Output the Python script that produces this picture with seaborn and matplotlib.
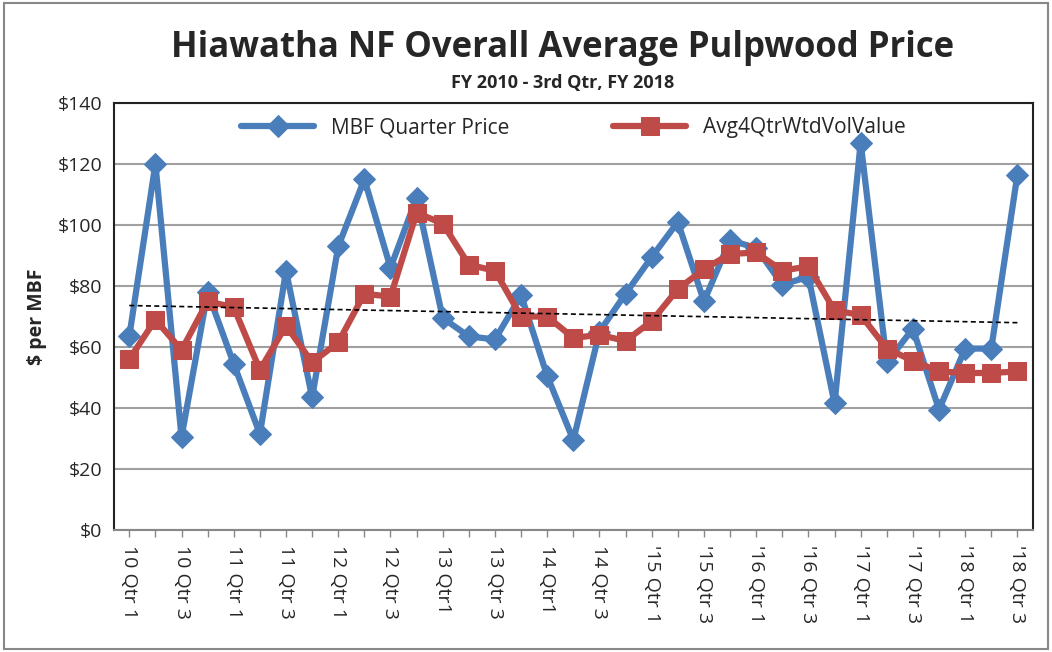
import numpy as np
import pandas as pd
import matplotlib
matplotlib.use("Agg")
import matplotlib.pyplot as plt
import seaborn as sns

# quarters FY2010 Q1 .. FY2018 Q3
quarters = [f"{y} Q{q}" for y in range(10, 19) for q in range(1, 5)][:35]

mbf_price = [63.5, 120, 30.5, 78, 54.5, 31.5, 85, 43.5, 93, 115, 86, 109,
             69.5, 63.5, 62.5, 77, 50.5, 29.5, 65, 77.5, 89.5, 101, 75, 95,
             92.5, 80.5, 83, 41.5, 127, 55, 66, 39.5, 59.5, 59.5, 116.5]

avg4qtr = [56, 69, 59, 75, 73, 52.5, 67, 55, 61.5, 77.5, 76.5, 104,
           100.5, 87, 85, 70, 70, 63, 64, 62, 68.5, 79, 85.5, 90.5,
           91, 85, 86.5, 72, 70.5, 59.5, 55.5, 52, 51.5, 51.5, 52]

tick_labels = ["10 Qtr 1", "10 Qtr 3", "11 Qtr 1", "11 Qtr 3", "12 Qtr 1",
               "12 Qtr 3", "13 Qtr1", "13 Qtr 3", "14 Qtr1", "14 Qtr 3",
               "'15 Qtr 1", "'15 Qtr 3", "'16 Qtr 1", "'16 Qtr 3",
               "'17 Qtr 1", "'17 Qtr 3", "'18 Qtr 1", "'18 Qtr 3"]

df = pd.DataFrame({"idx": np.arange(len(quarters)), "quarter": quarters,
                   "MBF Quarter Price": mbf_price,
                   "Avg4QtrWtdVolValue": avg4qtr})

sns.set_style("white")
plt.rcParams["font.family"] = ["Open Sans", "DejaVu Sans"]

fig = plt.figure(figsize=(10.52, 6.52), dpi=100)
ax = fig.add_axes([0.108, 0.187, 0.874, 0.655])

blue = "#4a7ebb"
red = "#be4b48"

sns.lineplot(data=df, x="idx", y="MBF Quarter Price", ax=ax, color=blue,
             linewidth=4.5, marker="D", markersize=11, markeredgecolor=blue,
             label="MBF Quarter Price")
sns.lineplot(data=df, x="idx", y="Avg4QtrWtdVolValue", ax=ax, color=red,
             linewidth=4.5, marker="s", markersize=13, markeredgecolor=red,
             label="Avg4QtrWtdVolValue")

# linear trend of the weighted 4-quarter average
coef = np.polyfit(df["idx"], df["Avg4QtrWtdVolValue"], 1)
ax.plot(df["idx"], np.polyval(coef, df["idx"]), color="black",
        linestyle=(0, (3, 2)), linewidth=1.2, zorder=5)

ax.set_ylim(0, 140)
ax.set_xlim(-0.6, len(quarters) - 0.4)
ax.set_yticks(range(0, 141, 20))
ax.set_yticklabels([f"${v}" for v in range(0, 141, 20)], fontsize=14)
ax.yaxis.grid(True, color="#a0a0a0", linewidth=1.5)
ax.set_axisbelow(True)

ax.set_xticks(df["idx"])
labels = []
for i in range(len(quarters)):
    labels.append(tick_labels[i // 2] if i % 2 == 0 else "")
ax.set_xticklabels(labels, rotation=270, fontsize=14)
ax.tick_params(axis="x", direction="out", length=5, width=1, color="#888888",
               bottom=True, pad=6)
ax.tick_params(axis="y", length=0, pad=8)

for s in ax.spines.values():
    s.set_color("#222222")
    s.set_linewidth(1.5)
ax.spines["bottom"].set_color("#888888")

ax.set_xlabel("")
ax.set_ylabel("$ per MBF", fontsize=14, fontweight="bold", labelpad=8)

ax.legend(loc="upper center", ncol=2, frameon=False, fontsize=15,
          handlelength=3.5, columnspacing=5, bbox_to_anchor=(0.5, 1.01))

fig.text(0.535, 0.927, "Hiawatha NF Overall Average Pulpwood Price",
         ha="center", va="center", fontsize=25, fontweight="bold")
fig.text(0.535, 0.872, "FY 2010 - 3rd Qtr, FY 2018", ha="center",
         va="center", fontsize=13, fontweight="bold")

fig.patches.append(plt.Rectangle((0.004, 0.004), 0.992, 0.992,
                                 transform=fig.transFigure, fill=False,
                                 edgecolor="#888888", linewidth=1.5))

fig.savefig("out.png", dpi=100)
